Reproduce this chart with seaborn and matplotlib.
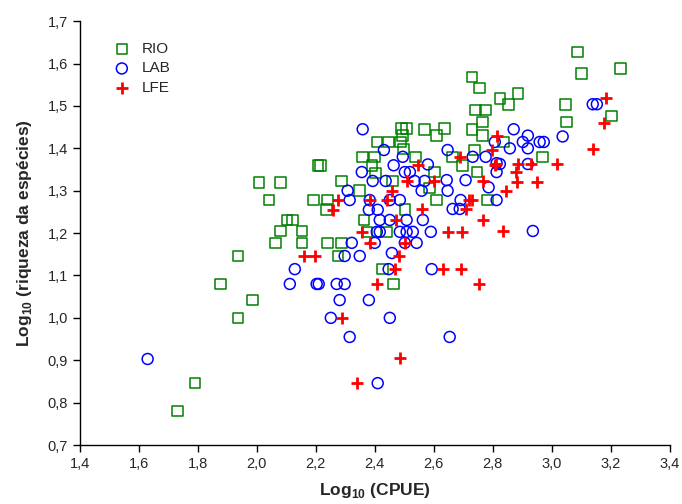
import matplotlib
matplotlib.use("Agg")
import matplotlib.pyplot as plt
import seaborn as sns
import pandas as pd
from matplotlib.ticker import FuncFormatter, MultipleLocator

# ---- data ----
rio_x = [1.732, 1.79, 1.878, 1.936, 1.986, 1.936, 2.007, 2.081, 2.041, 2.193, 2.207,
         2.102, 2.122, 2.081, 2.153, 2.064, 2.153,
         2.491, 2.508, 2.495, 2.407, 2.447, 2.488, 2.498, 2.359, 2.4, 2.39, 2.217,
         2.403, 2.461, 2.288, 2.349,
         2.24, 2.237, 2.502, 2.363, 2.373, 2.44, 2.24, 2.288, 2.275, 2.427, 2.464,
         2.742, 2.776, 2.766, 2.569, 2.637, 2.61, 2.729, 2.766, 2.739, 2.539, 2.664,
         2.698, 2.603, 2.746, 2.586, 2.61, 2.783, 2.729, 2.756,
         3.088, 3.101, 2.885, 2.824, 2.854, 3.047, 3.051, 2.837, 2.969, 3.234, 3.203]
rio_y = [0.78, 0.846, 1.08, 1.0, 1.042, 1.146, 1.32, 1.32, 1.278, 1.278, 1.36,
         1.231, 1.231, 1.205, 1.205, 1.177, 1.177,
         1.447, 1.447, 1.43, 1.415, 1.415, 1.415, 1.398, 1.38, 1.38, 1.36, 1.36,
         1.342, 1.323, 1.323, 1.30,
         1.278, 1.255, 1.255, 1.231, 1.203, 1.203, 1.177, 1.177, 1.146, 1.115, 1.08,
         1.49, 1.49, 1.462, 1.445, 1.447, 1.43, 1.445, 1.43, 1.396, 1.38, 1.38,
         1.36, 1.344, 1.344, 1.306, 1.278, 1.278, 1.568, 1.542,
         1.627, 1.577, 1.53, 1.518, 1.504, 1.504, 1.462, 1.415, 1.38, 1.589, 1.476]

lab_x = [1.63, 2.129, 2.112, 2.203,
         2.359, 2.431, 2.464, 2.495, 2.356, 2.502, 2.393, 2.437, 2.308,
         2.315, 2.383, 2.451, 2.485, 2.38, 2.41, 2.417, 2.451, 2.508, 2.407, 2.417,
         2.485, 2.508, 2.529, 2.322, 2.4, 2.502, 2.298, 2.349, 2.458, 2.447, 2.21,
         2.271, 2.298,
         2.281, 2.38, 2.251, 2.451, 2.315, 2.41,
         2.647, 2.732, 2.776, 2.58, 2.813, 2.519, 2.535, 2.569, 2.644, 2.708, 2.786,
         2.559, 2.647, 2.813, 2.691, 2.664, 2.688, 2.563, 2.59, 2.542, 2.593,
         2.654,
         2.871, 2.919, 3.037, 2.807, 2.902, 2.959, 2.973, 2.858, 2.919,
         2.824, 2.919, 2.813, 2.936, 3.139, 3.153]
lab_y = [0.903, 1.115, 1.08, 1.08,
         1.445, 1.396, 1.36, 1.38, 1.344, 1.344, 1.323, 1.323, 1.30,
         1.278, 1.278, 1.278, 1.278, 1.255, 1.255, 1.231, 1.231, 1.231, 1.203, 1.203,
         1.203, 1.203, 1.203, 1.177, 1.177, 1.177, 1.146, 1.146, 1.153, 1.115, 1.08,
         1.08, 1.08,
         1.042, 1.042, 1.0, 1.0, 0.955, 0.846,
         1.396, 1.38, 1.38, 1.362, 1.365, 1.344, 1.323, 1.323, 1.325, 1.325, 1.308,
         1.30, 1.30, 1.278, 1.278, 1.257, 1.257, 1.231, 1.203, 1.177, 1.115,
         0.955,
         1.445, 1.43, 1.428, 1.415, 1.415, 1.415, 1.415, 1.40, 1.40,
         1.363, 1.363, 1.344, 1.205, 1.504, 1.504]

lfe_x = [2.159, 2.197,
         2.508, 2.458,
         2.275, 2.383, 2.44, 2.258, 2.471, 2.356, 2.383, 2.502, 2.481, 2.468, 2.407,
         2.288, 2.485, 2.339,
         2.813, 2.797, 2.688, 2.546, 2.807, 2.6, 2.766,
         2.718, 2.73, 2.559, 2.708, 2.766, 2.647, 2.695, 2.834, 2.631, 2.692,
         2.753,
         2.81, 2.885, 2.929, 3.017, 2.878, 2.881, 2.949, 2.844,
         3.183, 3.176, 3.139]
lfe_y = [1.146, 1.146,
         1.323, 1.30,
         1.278, 1.278, 1.278, 1.255, 1.231, 1.203, 1.177, 1.177, 1.146, 1.115, 1.08,
         1.0, 0.905, 0.846,
         1.43, 1.396, 1.38, 1.36, 1.36, 1.323, 1.323,
         1.278, 1.278, 1.257, 1.257, 1.231, 1.203, 1.203, 1.205, 1.115, 1.115,
         1.08,
         1.363, 1.363, 1.363, 1.363, 1.344, 1.32, 1.32, 1.299,
         1.518, 1.46, 1.398]

groups = ["RIO", "LAB", "LFE"]
colors = {"RIO": "#008000", "LAB": "#0000ff", "LFE": "#ff0000"}

df = pd.concat([
    pd.DataFrame({"x": rio_x, "y": rio_y, "g": "RIO"}),
    pd.DataFrame({"x": lab_x, "y": lab_y, "g": "LAB"}),
    pd.DataFrame({"x": lfe_x, "y": lfe_y, "g": "LFE"}),
])

sns.set_style("white")
plt.rcParams["font.family"] = ["Liberation Sans", "DejaVu Sans"]
plt.rcParams["mathtext.fontset"] = "custom"
plt.rcParams["mathtext.rm"] = "Liberation Sans"
plt.rcParams["mathtext.bf"] = "Liberation Sans:bold"

fig = plt.figure(figsize=(6.82, 5.04), dpi=100)
ax = fig.add_axes([0.117, 0.117, 0.865, 0.841])

sub = df[df.g == "RIO"]
sns.scatterplot(data=sub, x="x", y="y", ax=ax, marker="s", s=58,
                color=colors["RIO"], facecolors="none", edgecolor=colors["RIO"],
                linewidth=1.1, label="RIO")
sub = df[df.g == "LAB"]
sns.scatterplot(data=sub, x="x", y="y", ax=ax, marker="o", s=62,
                color=colors["LAB"], facecolors="none", edgecolor=colors["LAB"],
                linewidth=1.1, label="LAB")
sub = df[df.g == "LFE"]
sns.scatterplot(data=sub, x="x", y="y", ax=ax, marker="+", s=75,
                color=colors["LFE"], linewidth=2.0, label="LFE")

ax.set_xlim(1.4, 3.4)
ax.set_ylim(0.7, 1.7)
ax.xaxis.set_major_locator(MultipleLocator(0.2))
ax.yaxis.set_major_locator(MultipleLocator(0.1))
fmt = FuncFormatter(lambda v, p: f"{v:.1f}".replace(".", ","))
ax.xaxis.set_major_formatter(fmt)
ax.yaxis.set_major_formatter(fmt)
ax.tick_params(axis="both", direction="out", length=5, width=1, labelsize=10.5,
               bottom=True, left=True, color="black")
sns.despine(ax=ax)
for sp in ["left", "bottom"]:
    ax.spines[sp].set_color("black")
    ax.spines[sp].set_linewidth(1.0)

ax.set_xlabel(r"Log$_{\mathbf{10}}$ (CPUE)", fontsize=12.5, fontweight="bold", labelpad=7)
ax.set_ylabel(r"Log$_{\mathbf{10}}$ (riqueza da espécies)", fontsize=12.5,
              fontweight="bold", labelpad=10)

ax.legend(loc="upper left", bbox_to_anchor=(0.035, 0.965), frameon=False,
          fontsize=11, handletextpad=0.3, labelspacing=0.35, borderaxespad=0)

fig.savefig("out.png", dpi=100)
